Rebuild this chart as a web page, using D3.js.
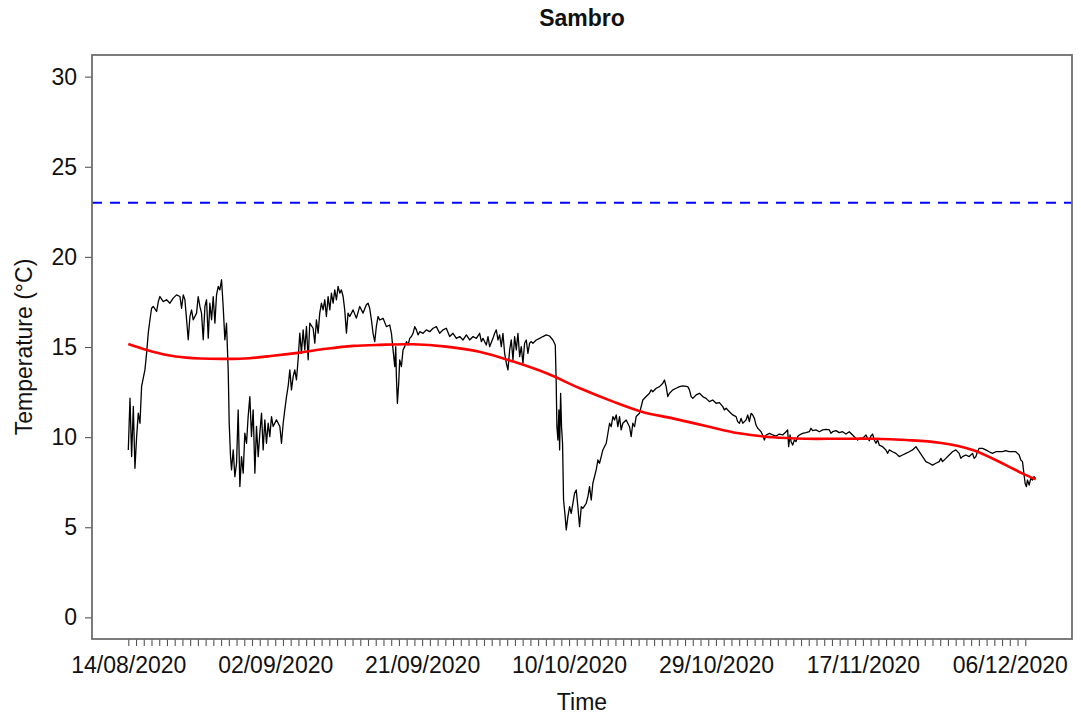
<!DOCTYPE html>
<html>
<head>
<meta charset="utf-8">
<script src="https://cdn.jsdelivr.net/npm/d3@7"></script>
<style>
  html, body { margin: 0; padding: 0; background: #fff; }
  svg { display: block; font-family: "Liberation Sans", Arial, sans-serif; }
</style>
</head>
<body>
<svg id="chart" width="1081" height="717"></svg>
<script>
// Sambro logger: temperature record from 14/08/2020, time given in days since the start
const seriesStart = Date.UTC(2020, 7, 14);

const obsDay = [
  0.00,0.22,0.43,0.65,0.86,1.08,1.29,1.51,1.72,2.15,
  2.37,2.58,2.80,3.01,3.23,3.66,3.88,4.09,4.52,4.95,
  5.38,5.81,6.24,6.68,6.89,7.11,7.32,7.54,7.75,7.97,
  8.18,8.40,8.83,9.04,9.26,9.47,9.69,9.91,10.12,10.34,
  10.55,10.77,10.98,11.20,11.41,11.63,11.84,12.06,12.27,12.49,
  12.70,12.92,13.05,13.22,13.35,13.57,13.78,14.00,14.21,14.43,
  14.64,14.86,15.07,15.29,15.50,15.72,15.93,16.15,16.37,16.58,
  16.80,17.01,17.23,17.44,17.66,17.87,18.09,18.30,18.52,18.73,
  19.16,19.60,19.81,20.03,20.24,20.46,20.67,20.89,21.10,21.32,
  21.53,21.75,21.96,22.18,22.39,22.61,22.82,23.04,23.26,23.47,
  23.90,24.12,24.33,24.55,24.76,24.98,25.19,25.41,25.62,25.84,
  26.06,26.27,26.49,26.70,26.92,27.13,27.35,27.56,27.78,27.99,
  28.21,28.42,28.64,29.07,29.50,29.93,30.36,30.79,31.01,31.22,
  31.44,31.65,31.87,32.08,32.30,
  32.52,32.95,33.38,33.81,34.03,34.24,34.46,34.59,34.67,34.80,
  34.97,35.10,35.32,35.53,35.75,35.97,36.18,36.40,36.61,36.83,
  37.04,37.26,37.47,37.69,38.12,38.55,38.98,39.41,39.84,40.27,
  40.70,41.13,41.56,41.99,42.43,42.86,43.29,43.72,44.15,44.58,
  45.01,45.44,45.66,45.87,46.30,46.52,46.73,47.16,47.38,47.59,
  47.81,48.02,48.24,48.45,48.67,48.89,49.10,49.32,49.53,49.75,
  49.96,50.18,50.39,50.61,50.82,51.04,51.25,51.47,51.68,51.90,
  52.12,52.33,52.76,53.19,53.62,54.05,54.48,54.91,55.22,55.34,
  55.43,55.56,55.69,55.78,55.91,56.03,56.16,56.29,56.46,56.64,
  56.85,57.07,57.28,57.50,57.71,57.93,58.14,58.36,58.58,58.79,
  59.22,59.44,59.65,59.87,60.08,60.51,60.73,60.94,61.16,61.37,
  61.81,62.24,62.45,62.67,62.88,63.10,63.31,63.53,63.74,63.96,
  64.39,64.82,65.03,65.25,65.47,65.68,66.11,66.54,66.97,67.40,
  67.62,67.83,68.27,68.70,69.13,69.34,69.56,69.77,69.99,70.42,
  70.85,71.28,
  71.71,72.35,72.57,72.79,73.00,73.43,73.86,74.29,74.72,75.15,
  75.58,76.02,76.45,76.88,77.09,77.31,77.74,78.17,78.60,78.81,
  79.03,79.25,79.46,79.89,80.11,80.32,80.54,80.75,80.97,81.18,
  81.40,81.61,81.83,82.04,82.26,82.48,82.91,83.34,83.77,84.20,
  84.63,85.06,85.27,85.40,85.58,85.71,85.92,86.14,86.35,86.57,
  86.78,87.21,87.64,88.07,88.29,88.50,88.93,89.37,89.80,90.23,
  90.66,90.87,91.09,91.52,91.95,92.38,92.81,93.24,93.67,94.10,
  94.32,94.53,94.96,95.40,95.61,95.83,96.04,96.26,96.47,96.69,
  96.90,97.12,97.55,97.98,98.19,98.41,98.84,99.27,99.70,100.13,
  100.56,100.99,101.42,101.86,102.29,102.72,103.15,103.58,104.01,104.44,
  104.87,105.09,105.30,105.73,106.16,106.59,107.02,107.45,107.67,107.88,
  108.31,108.75,109.18,109.39,109.61,109.82,110.04,110.47,110.90,111.33,
  111.76,112.19,112.62,113.05,113.48,113.91,114.34,114.77,115.21,115.42,
  115.64,115.85,115.98,116.15,116.28,116.50,116.71,116.93,117.14,117.35
];

const obsTemp = [
  9.29,12.16,8.92,11.70,8.27,10.03,11.33,10.77,12.81,13.73,
  14.66,15.77,16.51,17.15,17.25,16.97,17.52,17.80,17.52,17.62,
  17.43,17.71,17.89,17.80,17.15,17.89,17.62,16.51,15.40,16.69,
  17.06,16.51,16.88,17.80,17.25,16.88,15.40,17.25,17.62,15.49,
  17.43,16.51,17.80,16.32,17.89,18.36,18.17,18.73,17.25,15.40,
  16.32,13.73,10.77,8.92,8.18,9.29,7.81,8.55,11.51,7.26,
  8.92,8.00,10.22,9.66,11.14,12.25,10.03,11.51,8.00,10.59,
  8.92,10.22,11.33,9.29,10.96,9.66,10.77,10.03,11.14,10.59,
  10.96,10.59,9.66,10.77,11.51,12.25,12.81,13.73,12.62,13.36,
  13.73,13.18,14.29,15.77,14.66,15.95,14.84,16.14,14.29,16.32,
  16.04,15.21,16.51,15.77,16.88,17.43,17.06,17.62,16.69,17.80,
  17.06,17.99,17.43,18.17,17.62,18.36,17.99,18.17,17.80,17.06,
  15.77,16.88,16.69,17.06,16.60,17.25,16.88,17.34,17.43,17.15,
  16.51,15.77,15.30,16.14,16.69,
  16.50,16.59,16.13,16.22,15.76,14.84,13.91,15.02,13.36,11.88,
  12.99,14.28,13.91,14.84,15.02,15.30,15.11,15.48,15.58,15.76,
  16.13,15.95,15.67,15.85,15.76,15.95,15.85,16.04,16.13,15.76,
  15.95,16.04,15.58,15.76,15.48,15.58,15.39,15.67,15.39,15.58,
  15.48,15.76,15.30,15.48,15.11,15.58,15.02,15.48,15.76,15.95,
  15.39,15.67,15.02,15.76,14.65,14.10,13.73,14.84,15.39,14.28,
  15.58,14.84,15.76,14.47,15.02,14.10,15.21,15.39,14.65,15.21,
  15.30,15.21,15.39,15.48,15.58,15.67,15.61,15.39,15.11,12.99,
  10.58,9.84,11.51,9.29,12.43,10.58,9.66,6.51,5.77,4.85,
  5.59,6.14,5.77,6.33,6.88,7.07,6.14,5.03,6.14,6.05,
  6.33,6.70,7.25,6.51,7.44,8.18,8.73,8.55,8.92,9.29,
  9.66,10.77,10.58,11.14,10.95,11.23,10.58,11.14,10.40,10.77,
  10.95,10.58,10.03,10.77,10.58,11.14,11.32,12.06,12.25,12.43,
  12.62,12.52,12.71,12.80,12.99,13.17,12.80,12.25,12.43,12.62,
  12.71,12.80,
  12.84,12.80,12.62,12.25,12.15,12.34,12.43,12.25,12.15,11.97,
  12.06,11.88,11.91,11.69,11.51,11.60,11.41,11.23,11.14,10.86,
  10.77,11.04,10.77,10.95,11.23,10.86,11.32,11.23,11.04,10.67,
  10.49,10.40,10.30,10.12,9.84,10.12,10.21,10.12,10.06,10.17,
  10.12,10.30,10.40,9.47,10.12,9.75,9.56,9.84,9.75,10.03,
  10.12,10.21,10.25,10.30,10.49,10.36,10.40,10.30,10.40,10.43,
  10.40,10.21,10.30,10.36,10.25,10.30,10.17,10.30,10.12,9.93,
  9.84,9.93,9.93,10.12,9.93,9.80,10.06,10.17,9.84,9.66,
  9.84,9.56,9.47,9.29,9.10,9.29,9.19,9.10,8.92,9.01,
  9.10,9.19,9.29,9.47,9.19,8.92,8.64,8.55,8.45,8.55,
  8.64,8.82,8.64,8.82,9.01,9.19,9.29,9.10,8.82,8.92,
  9.01,8.92,9.10,8.82,8.92,9.19,9.38,9.38,9.29,9.19,
  9.10,9.19,9.19,9.19,9.25,9.19,9.19,9.19,9.01,8.73,
  8.64,7.90,7.44,7.25,7.62,7.34,7.71,7.62,7.81,7.70
];

// Smoothed trend of the same record
const trendDay = [0, 2.4, 5, 7.5, 9.3, 12.7, 15.7, 18.7, 22.2, 25.6, 29.1, 32.5, 36.8, 41.1, 45.4, 49.8,
  54.1, 58.4, 62.7, 66.5, 70.4, 74.7, 79.0, 83.3, 87.6, 92.0, 96.3, 100.6, 104.9, 109.2, 113.5, 115.6, 117.35];
const trendTemp = [15.17, 14.84, 14.56, 14.41, 14.36, 14.34, 14.38, 14.51, 14.69, 14.90, 15.06, 15.12, 15.15, 15.02, 14.74, 14.19,
  13.54, 12.71, 11.97, 11.40, 11.04, 10.62, 10.21, 9.99, 9.91, 9.91, 9.91, 9.84, 9.69, 9.29, 8.45, 7.99, 7.66];

// Threshold temperature
const thresholdTemp = 23;

const yTicks = [0, 5, 10, 15, 20, 25, 30];
const yLimits = [0, 30];
const xTickLabels = ["14/08/2020", "02/09/2020", "21/09/2020", "10/10/2020", "29/10/2020", "17/11/2020", "06/12/2020"];
const firstTickDay = "14/08/2020";
const lastTickDay = "08/12/2020";

const chartTitle = "Sambro";
const xTitle = "Time";
const yTitle = "Temperature (°C)";

// ---- layout ----
const W = 1081, H = 717;
const plot = { left: 92, right: 1072, top: 55, bottom: 639 };

const toDate = d => new Date(seriesStart + d * 864e5);
const parseDMY = d3.utcParse("%d/%m/%Y");
const fmtDMY = d3.utcFormat("%d/%m/%Y");

const obs = obsDay.map((d, i) => ({ t: toDate(d), v: obsTemp[i] })).filter(p => p.v != null);
const trend = trendDay.map((d, i) => ({ t: toDate(d), v: trendTemp[i] }));

// 4% padding on both scales
const tExt = d3.extent(obs, p => +p.t);
const tPad = (tExt[1] - tExt[0]) * 0.04;
const x = d3.scaleUtc()
  .domain([new Date(tExt[0] - tPad), new Date(tExt[1] + tPad)])
  .range([plot.left, plot.right]);

const yPad = (yLimits[1] - yLimits[0]) * 0.04;
const y = d3.scaleLinear()
  .domain([yLimits[0] - yPad, yLimits[1] + yPad])
  .range([plot.bottom, plot.top]);

const svg = d3.select("#chart");
svg.append("rect").attr("width", W).attr("height", H).attr("fill", "#fff");

const clip = svg.append("clipPath").attr("id", "plotclip")
  .append("rect")
  .attr("x", plot.left).attr("y", plot.top)
  .attr("width", plot.right - plot.left).attr("height", plot.bottom - plot.top);

const g = svg.append("g").attr("clip-path", "url(#plotclip)");

// observed temperature
g.append("path")
  .datum(obs)
  .attr("fill", "none")
  .attr("stroke", "#000")
  .attr("stroke-width", 1.3)
  .attr("stroke-linejoin", "round")
  .attr("d", d3.line().x(p => x(p.t)).y(p => y(p.v)));

// smoothed trend
g.append("path")
  .datum(trend)
  .attr("fill", "none")
  .attr("stroke", "#ff0000")
  .attr("stroke-width", 2.6)
  .attr("d", d3.line().curve(d3.curveCatmullRom.alpha(0.5)).x(p => x(p.t)).y(p => y(p.v)));

// threshold line
g.append("line")
  .attr("x1", plot.left).attr("x2", plot.right)
  .attr("y1", y(thresholdTemp)).attr("y2", y(thresholdTemp))
  .attr("stroke", "#0000ff")
  .attr("stroke-width", 2)
  .attr("stroke-dasharray", "10,8");

// axes
const dayTicks = d3.utcDay.range(parseDMY(firstTickDay), d3.utcDay.offset(parseDMY(lastTickDay), 1));
const labelSet = new Set(xTickLabels);

const xAxis = svg.append("g")
  .attr("transform", `translate(0,${plot.bottom})`)
  .call(d3.axisBottom(x).tickValues(dayTicks).tickSize(7).tickPadding(11)
    .tickFormat(d => labelSet.has(fmtDMY(d)) ? fmtDMY(d) : ""));
xAxis.select(".domain").remove();
xAxis.selectAll(".tick line").attr("stroke", "#555").attr("stroke-width", 1.1);
xAxis.selectAll(".tick text").attr("font-size", 23).attr("fill", "#111")
  .attr("font-family", "'Liberation Sans', Arial, sans-serif");

const yAxis = svg.append("g")
  .attr("transform", `translate(${plot.left},0)`)
  .call(d3.axisLeft(y).tickValues(yTicks).tickSize(7).tickPadding(8).tickFormat(d3.format("d")));
yAxis.select(".domain").remove();
yAxis.selectAll(".tick line").attr("stroke", "#555").attr("stroke-width", 1.1);
yAxis.selectAll(".tick text").attr("font-size", 23).attr("fill", "#111")
  .attr("font-family", "'Liberation Sans', Arial, sans-serif");

// plot frame
svg.append("rect")
  .attr("x", plot.left).attr("y", plot.top)
  .attr("width", plot.right - plot.left).attr("height", plot.bottom - plot.top)
  .attr("fill", "none").attr("stroke", "#6e6e6e").attr("stroke-width", 1.8);

// titles
svg.append("text")
  .attr("x", (plot.left + plot.right) / 2).attr("y", 26)
  .attr("text-anchor", "middle").attr("font-size", 23).attr("font-weight", "bold").attr("fill", "#111")
  .text(chartTitle);

svg.append("text")
  .attr("x", (plot.left + plot.right) / 2).attr("y", 710)
  .attr("text-anchor", "middle").attr("font-size", 23).attr("fill", "#111")
  .text(xTitle);

svg.append("text")
  .attr("transform", `translate(32,${(plot.top + plot.bottom) / 2}) rotate(-90)`)
  .attr("text-anchor", "middle").attr("font-size", 23).attr("fill", "#111")
  .text(yTitle);
</script>
</body>
</html>
